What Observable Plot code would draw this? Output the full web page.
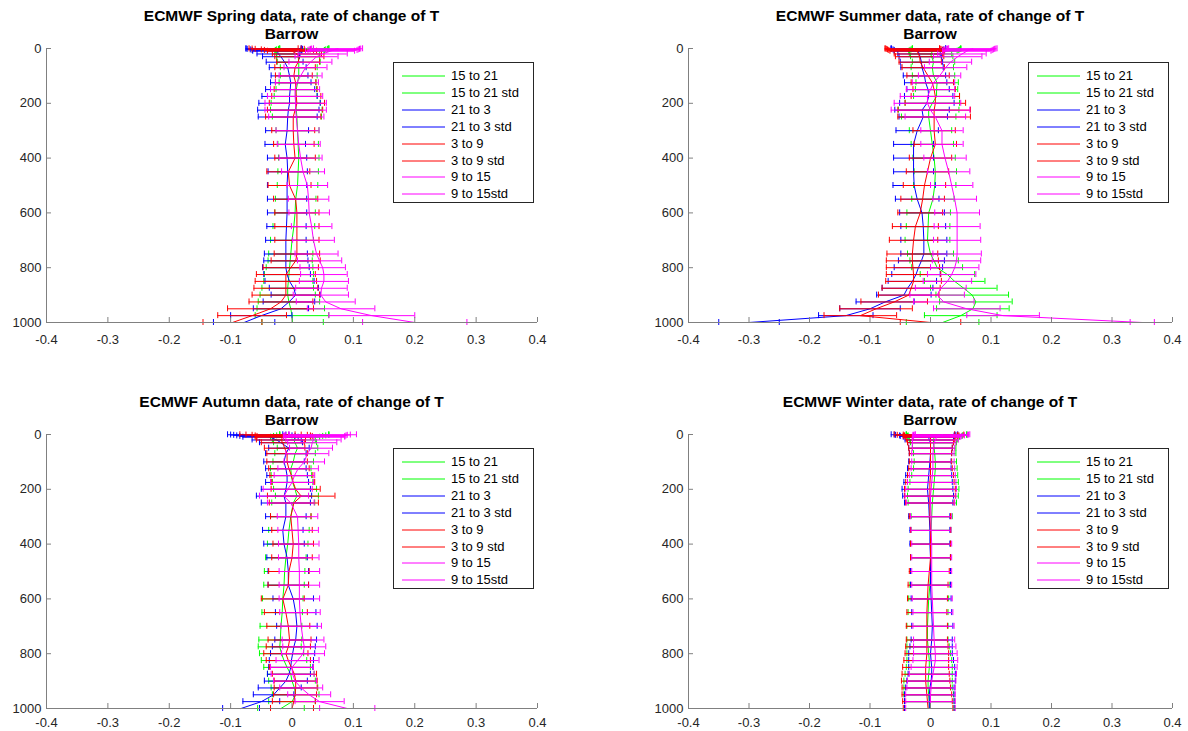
<!DOCTYPE html>
<html><head><meta charset="utf-8">
<script src="https://cdn.jsdelivr.net/npm/d3@7"></script>
<script src="https://cdn.jsdelivr.net/npm/@observablehq/plot@0.6"></script>
<style>
body{margin:0;background:#fff;font-family:Arial,"Liberation Sans",sans-serif;}
#fig{position:relative;width:1188px;height:731px;overflow:hidden;background:#fff;}
.panel{position:absolute;}
.title{position:absolute;text-align:center;font-weight:bold;font-size:15.5px;line-height:18px;color:#000;white-space:nowrap;}
.legend{position:absolute;border:1px solid #262626;background:#fff;font-size:13px;color:#000;box-sizing:border-box;}
.lrow{position:absolute;left:0;height:17px;line-height:17px;white-space:nowrap;}
.lrow svg{position:absolute;left:8px;top:8px;}
.lrow span{position:absolute;left:57px;top:0;}
</style></head>
<body><div id="fig"></div>
<script>
// ---- data ----
const levels = [1,2,3,5,7,10,20,30,50,70,100,125,150,175,200,225,250,300,350,400,450,500,550,600,650,700,750,775,800,825,850,875,900,925,950,975,1000];
const seasons = ["Spring","Summer","Autumn","Winter"];
const seriesNames = ["15 to 21","21 to 3","3 to 9","9 to 15"];
const seriesColors = ["#00ff00","#0000ff","#ff0000","#ff00ff"];
const legendLabels = ["15 to 21","15 to 21 std","21 to 3","21 to 3 std","3 to 9","3 to 9 std","9 to 15","9 to 15std"];
const xTicks = [-0.4,-0.3,-0.2,-0.1,0,0.1,0.2,0.3,0.4];
const yTicks = [0,200,400,600,800,1000];

// Spring
const springMean15to21 = [0.02,0.02,0.018,0.015,0.013,0.012,0.01,0.01,0.011,0.011,0.011,0.009,0.007,0.006,0.006,0.007,0.008,0.009,0.01,0.011,0.01,0.009,0.006,0.005,0.003,0.0,-0.002,-0.003,-0.004,-0.005,-0.006,-0.007,-0.007,-0.005,-0.002,0.0,0.001];
const springStd15to21 = [0.04,0.04,0.04,0.04,0.04,0.04,0.035,0.035,0.035,0.03,0.03,0.03,0.033,0.035,0.04,0.042,0.04,0.035,0.033,0.033,0.033,0.033,0.033,0.033,0.034,0.035,0.036,0.036,0.038,0.04,0.04,0.042,0.045,0.05,0.055,0.06,0.05];
const springMean21to3 = [-0.03,-0.03,-0.028,-0.026,-0.025,-0.024,-0.022,-0.018,-0.012,-0.007,-0.004,-0.002,-0.003,-0.004,-0.004,-0.006,-0.007,-0.008,-0.011,-0.008,-0.007,-0.008,-0.008,-0.008,-0.009,-0.01,-0.01,-0.01,-0.01,-0.008,-0.004,0.003,0.006,-0.005,-0.018,-0.05,-0.078];
const springStd21to3 = [0.045,0.045,0.045,0.042,0.04,0.04,0.035,0.03,0.03,0.03,0.03,0.033,0.04,0.045,0.05,0.05,0.048,0.035,0.033,0.032,0.032,0.032,0.032,0.032,0.032,0.033,0.035,0.036,0.038,0.038,0.04,0.04,0.04,0.042,0.045,0.05,0.05];
const springMean3to9 = [-0.03,-0.025,-0.02,-0.01,-0.005,0.0,0.008,0.012,0.01,0.005,0.003,0.006,0.006,0.007,0.008,0.005,0.002,0.002,0.003,0.005,-0.006,-0.004,0.006,0.008,0.008,0.008,0.008,0.006,-0.002,-0.01,-0.01,-0.01,-0.01,-0.018,-0.035,-0.065,-0.097];
const springStd3to9 = [0.04,0.04,0.04,0.04,0.04,0.04,0.04,0.04,0.035,0.033,0.03,0.033,0.035,0.04,0.045,0.045,0.045,0.035,0.033,0.033,0.035,0.035,0.036,0.036,0.036,0.036,0.037,0.04,0.045,0.048,0.05,0.052,0.055,0.052,0.07,0.056,0.048];
const springMean9to15 = [0.075,0.072,0.07,0.068,0.066,0.062,0.05,0.04,0.03,0.022,0.014,0.008,0.005,0.005,0.006,0.006,0.007,0.009,0.011,0.014,0.018,0.025,0.027,0.028,0.032,0.035,0.04,0.045,0.05,0.052,0.052,0.048,0.047,0.055,0.08,0.13,0.2];
const springStd9to15 = [0.04,0.04,0.04,0.04,0.04,0.04,0.04,0.035,0.035,0.035,0.035,0.035,0.04,0.045,0.05,0.05,0.045,0.035,0.035,0.035,0.035,0.033,0.033,0.033,0.033,0.034,0.035,0.036,0.037,0.038,0.04,0.042,0.045,0.048,0.055,0.07,0.085];

// Summer
const summerMean15to21 = [0.01,0.01,0.01,0.008,0.006,0.004,0.0,0.002,0.005,0.003,0.005,0.011,0.01,0.01,0.003,-0.003,-0.003,0.0,0.003,0.006,0.008,0.007,0.004,-0.003,-0.004,-0.005,0.0,0.006,0.011,0.028,0.04,0.055,0.069,0.075,0.07,0.05,0.02];
const summerStd15to21 = [0.04,0.04,0.04,0.04,0.04,0.04,0.035,0.035,0.035,0.035,0.035,0.035,0.035,0.038,0.045,0.05,0.045,0.035,0.035,0.035,0.035,0.035,0.035,0.036,0.036,0.037,0.038,0.04,0.042,0.045,0.05,0.055,0.06,0.06,0.06,0.06,0.06];
const summerMean21to3 = [-0.02,-0.02,-0.02,-0.02,-0.02,-0.02,-0.019,-0.017,-0.015,-0.014,-0.01,-0.008,-0.004,-0.003,-0.006,-0.014,-0.012,-0.022,-0.028,-0.028,-0.028,-0.027,-0.022,-0.014,-0.012,-0.011,-0.011,-0.015,-0.02,-0.024,-0.03,-0.038,-0.044,-0.075,-0.1,-0.14,-0.3];
const summerStd21to3 = [0.045,0.045,0.045,0.042,0.04,0.04,0.035,0.035,0.035,0.035,0.035,0.035,0.035,0.04,0.045,0.045,0.04,0.035,0.033,0.033,0.033,0.035,0.036,0.037,0.037,0.038,0.038,0.038,0.04,0.04,0.04,0.042,0.045,0.048,0.05,0.045,0.05];
const summerMean3to9 = [-0.03,-0.03,-0.028,-0.026,-0.024,-0.022,-0.02,-0.018,-0.017,-0.012,-0.004,0.003,0.006,0.008,0.008,0.006,0.006,0.006,0.008,0.0,-0.005,-0.01,-0.013,-0.017,-0.025,-0.028,-0.03,-0.03,-0.029,-0.028,-0.028,-0.032,-0.036,-0.06,-0.09,-0.116,0.0];
const summerStd3to9 = [0.045,0.045,0.045,0.045,0.045,0.045,0.04,0.04,0.035,0.035,0.035,0.035,0.035,0.04,0.05,0.06,0.06,0.035,0.035,0.035,0.035,0.035,0.036,0.037,0.038,0.04,0.042,0.043,0.044,0.045,0.046,0.048,0.05,0.055,0.06,0.06,0.05];
const summerMean9to15 = [0.07,0.068,0.066,0.064,0.062,0.06,0.052,0.045,0.033,0.025,0.015,0.005,0.0,-0.005,-0.005,0.0,0.008,0.019,0.019,0.024,0.03,0.035,0.04,0.044,0.044,0.044,0.044,0.043,0.04,0.035,0.028,0.017,0.011,0.022,0.06,0.12,0.35];
const summerStd9to15 = [0.04,0.04,0.04,0.04,0.04,0.04,0.04,0.04,0.035,0.035,0.035,0.035,0.04,0.045,0.055,0.065,0.05,0.035,0.035,0.035,0.035,0.035,0.036,0.037,0.038,0.039,0.04,0.04,0.04,0.04,0.04,0.042,0.045,0.05,0.055,0.06,0.02];

// Autumn
const autumnMean15to21 = [0.02,0.02,0.02,0.015,0.01,0.005,0.003,0.005,0.009,0.005,0.002,-0.002,-0.001,0.001,0.005,0.008,0.002,-0.002,-0.005,-0.007,-0.01,-0.012,-0.013,-0.015,-0.016,-0.018,-0.019,-0.02,-0.017,-0.013,-0.008,-0.002,0.0,0.004,0.006,0.0,-0.018];
const autumnStd15to21 = [0.04,0.04,0.04,0.04,0.04,0.04,0.035,0.035,0.033,0.033,0.033,0.033,0.033,0.033,0.035,0.035,0.035,0.033,0.033,0.033,0.033,0.033,0.033,0.033,0.033,0.034,0.035,0.035,0.036,0.037,0.038,0.038,0.038,0.038,0.038,0.038,0.038];
const autumnMean21to3 = [-0.06,-0.055,-0.05,-0.045,-0.04,-0.035,-0.025,-0.018,-0.005,-0.01,-0.013,-0.01,-0.008,-0.008,-0.01,-0.013,-0.01,-0.01,-0.015,-0.013,-0.008,-0.006,-0.006,0.002,0.006,0.008,0.006,0.003,0.001,-0.001,-0.002,-0.005,-0.01,-0.02,-0.03,-0.05,-0.083];
const autumnStd21to3 = [0.045,0.045,0.045,0.045,0.045,0.045,0.04,0.035,0.033,0.033,0.033,0.033,0.033,0.035,0.04,0.045,0.04,0.033,0.033,0.033,0.033,0.033,0.033,0.033,0.033,0.033,0.034,0.035,0.036,0.036,0.036,0.035,0.035,0.035,0.033,0.03,0.03];
const autumnMean3to9 = [-0.04,-0.03,-0.02,-0.015,-0.012,-0.015,-0.018,-0.015,-0.012,-0.008,-0.008,-0.005,-0.001,0.002,0.006,0.015,0.003,-0.002,0.0,0.002,0.0,-0.005,-0.006,-0.015,-0.01,-0.006,-0.004,-0.006,-0.01,-0.006,-0.001,0.004,0.006,0.006,0.005,0.003,0.0];
const autumnStd3to9 = [0.045,0.045,0.045,0.045,0.045,0.045,0.04,0.035,0.033,0.033,0.033,0.033,0.035,0.035,0.04,0.055,0.04,0.033,0.033,0.033,0.033,0.033,0.033,0.035,0.035,0.035,0.035,0.036,0.036,0.036,0.036,0.036,0.035,0.035,0.035,0.035,0.035];
const autumnMean9to15 = [0.05,0.045,0.04,0.038,0.036,0.036,0.035,0.033,0.031,0.025,0.02,0.01,0.004,0.0,-0.007,-0.013,-0.002,0.009,0.01,0.011,0.011,0.012,0.012,0.012,0.013,0.015,0.018,0.02,0.018,0.009,0.0,0.001,0.005,0.015,0.028,0.045,0.09];
const autumnStd9to15 = [0.055,0.05,0.05,0.05,0.05,0.05,0.045,0.04,0.035,0.035,0.033,0.033,0.033,0.035,0.04,0.04,0.038,0.033,0.033,0.033,0.033,0.033,0.033,0.033,0.033,0.033,0.034,0.035,0.035,0.035,0.035,0.035,0.035,0.035,0.035,0.04,0.045];

// Winter
const winterMean15to21 = [0.01,0.01,0.01,0.008,0.007,0.006,0.005,0.005,0.006,0.007,0.008,0.008,0.007,0.006,0.005,0.004,0.003,0.002,0.001,0.0,0.0,0.0,-0.001,-0.003,-0.004,-0.005,-0.005,-0.004,-0.003,-0.002,-0.002,-0.003,-0.004,-0.004,-0.003,-0.002,-0.002];
const winterStd15to21 = [0.05,0.05,0.05,0.045,0.045,0.042,0.04,0.038,0.036,0.035,0.035,0.036,0.038,0.04,0.042,0.042,0.04,0.034,0.033,0.033,0.033,0.033,0.033,0.033,0.033,0.034,0.034,0.035,0.036,0.037,0.038,0.039,0.04,0.04,0.041,0.041,0.041];
const winterMean21to3 = [-0.01,-0.01,-0.008,-0.006,-0.005,-0.003,-0.002,0.0,0.0,0.0,-0.001,-0.002,-0.003,-0.004,-0.005,-0.004,-0.003,-0.002,-0.001,-0.001,0.0,0.0,0.0,0.001,0.002,0.003,0.002,0.001,0.0,0.001,0.002,0.002,0.001,-0.001,-0.002,-0.002,-0.002];
const winterStd21to3 = [0.055,0.05,0.05,0.045,0.045,0.042,0.04,0.038,0.036,0.035,0.035,0.036,0.038,0.04,0.042,0.042,0.04,0.034,0.033,0.033,0.033,0.033,0.033,0.033,0.033,0.034,0.034,0.035,0.036,0.037,0.038,0.039,0.04,0.04,0.041,0.041,0.041];
const winterMean3to9 = [-0.01,0.005,-0.005,0.002,0.0,0.0,0.0,0.0,0.0,0.0,0.0,0.0,0.0,-0.001,-0.001,-0.001,-0.001,-0.001,0.0,0.0,0.0,-0.002,-0.004,-0.005,-0.006,-0.006,-0.006,-0.006,-0.006,-0.007,-0.008,-0.008,-0.008,-0.007,-0.006,-0.005,-0.004];
const winterStd3to9 = [0.05,0.05,0.05,0.045,0.045,0.042,0.04,0.038,0.036,0.035,0.035,0.036,0.038,0.04,0.042,0.042,0.04,0.034,0.033,0.033,0.033,0.033,0.033,0.033,0.033,0.034,0.034,0.035,0.036,0.037,0.038,0.039,0.04,0.04,0.041,0.041,0.041];
const winterMean9to15 = [0.02,0.018,0.016,0.014,0.012,0.01,0.008,0.006,0.005,0.004,0.004,0.004,0.003,0.002,0.001,0.0,0.0,0.001,0.001,0.002,0.002,0.002,0.002,0.003,0.004,0.005,0.006,0.007,0.008,0.008,0.006,0.004,0.002,0.001,0.0,0.0,0.0];
const winterStd9to15 = [0.045,0.045,0.045,0.042,0.04,0.04,0.038,0.036,0.035,0.035,0.035,0.036,0.038,0.04,0.042,0.042,0.04,0.034,0.033,0.033,0.033,0.033,0.033,0.033,0.033,0.034,0.034,0.035,0.036,0.037,0.038,0.039,0.04,0.04,0.041,0.041,0.041];

const seasonData = {
  Spring: [[springMean15to21,springStd15to21],[springMean21to3,springStd21to3],[springMean3to9,springStd3to9],[springMean9to15,springStd9to15]],
  Summer: [[summerMean15to21,summerStd15to21],[summerMean21to3,summerStd21to3],[summerMean3to9,summerStd3to9],[summerMean9to15,summerStd9to15]],
  Autumn: [[autumnMean15to21,autumnStd15to21],[autumnMean21to3,autumnStd21to3],[autumnMean3to9,autumnStd3to9],[autumnMean9to15,autumnStd9to15]],
  Winter: [[winterMean15to21,winterStd15to21],[winterMean21to3,winterStd21to3],[winterMean3to9,winterStd3to9],[winterMean9to15,winterStd9to15]]
};

// ---- layout ----
const fig = document.getElementById("fig");
const panelPos = [
  {left:0, top:0, mL:46, mR:57, h:360, mb:38, pad:12},
  {left:594, top:0, mL:94, mR:16, h:360, mb:38, pad:12},
  {left:0, top:386, mL:46, mR:57, h:345, mb:23, pad:9},
  {left:594, top:386, mL:94, mR:16, h:345, mb:23, pad:9}
];
const PW = 594, MT = 48;
const axisGray = "#808080";

seasons.forEach((season, k) => {
  const pos = panelPos[k];
  const marks = [];
  seasonData[season].forEach(([mean, sd], s) => {
    const c = seriesColors[s];
    const rows = levels.map((p, i) => ({p, m: mean[i], sd: sd[i]}));
    marks.push(Plot.line(rows, {x: "m", y: "p", stroke: c, strokeWidth: 1}));
    marks.push(Plot.ruleY(rows, {y: "p", x1: d => d.m - d.sd, x2: d => d.m + d.sd, stroke: c, strokeWidth: 1}));
    marks.push(Plot.ruleX(rows, {x: d => d.m - d.sd, y1: "p", y2: "p", insetTop: -3, insetBottom: -3, stroke: c, strokeWidth: 1}));
    marks.push(Plot.ruleX(rows, {x: d => d.m + d.sd, y1: "p", y2: "p", insetTop: -3, insetBottom: -3, stroke: c, strokeWidth: 1}));
  });
  // axes lines and inward ticks
  marks.push(Plot.ruleY([1000], {stroke: axisGray}));
  marks.push(Plot.ruleX([-0.4], {stroke: axisGray}));
  marks.push(Plot.ruleX(xTicks, {x: d => d, y1: 1000, y2: 1000, insetTop: -5, insetBottom: 0, stroke: axisGray}));
  marks.push(Plot.ruleY(yTicks, {y: d => d, x1: -0.4, x2: -0.4, insetLeft: 0, insetRight: -5, stroke: axisGray}));

  const svg = Plot.plot({
    width: PW, height: pos.h,
    marginLeft: pos.mL, marginRight: pos.mR, marginTop: MT, marginBottom: pos.mb,
    style: {fontSize: "13px", fontFamily: "Arial, 'Liberation Sans', sans-serif", color: "#262626", background: "transparent"},
    x: {domain: [-0.4, 0.4], ticks: xTicks, tickSize: 0, tickPadding: pos.pad, tickFormat: d => String(+d.toFixed(1)), label: null},
    y: {domain: [0, 1000], reverse: true, ticks: yTicks, tickSize: 0, tickPadding: 5, tickFormat: d => String(d), label: null},
    marks
  });
  const wrap = document.createElement("div");
  wrap.className = "panel";
  wrap.style.left = pos.left + "px";
  wrap.style.top = pos.top + "px";
  wrap.appendChild(svg);
  fig.appendChild(wrap);

  // title
  const axL = pos.left + pos.mL, axR = pos.left + PW - pos.mR;
  const t = document.createElement("div");
  t.className = "title";
  t.style.left = (axL - 100) + "px";
  t.style.width = (axR - axL + 200) + "px";
  t.style.top = (pos.top + 7) + "px";
  t.innerHTML = `ECMWF ${season} data, rate of change of T<br>Barrow`;
  fig.appendChild(t);

  // legend
  const lg = document.createElement("div");
  lg.className = "legend";
  lg.style.left = (axR - 144) + "px";
  lg.style.top = (pos.top + 62) + "px";
  lg.style.width = "141px";
  lg.style.height = "141px";
  legendLabels.forEach((lab, j) => {
    const r = document.createElement("div");
    r.className = "lrow";
    r.style.top = (4 + j * 16.9) + "px";
    const c = seriesColors[Math.floor(j / 2)];
    r.innerHTML = `<svg width="44" height="2"><line x1="0" y1="1" x2="43" y2="1" stroke="${c}" stroke-width="1"/></svg><span>${lab}</span>`;
    lg.appendChild(r);
  });
  fig.appendChild(lg);
});
</script>
</body></html>
